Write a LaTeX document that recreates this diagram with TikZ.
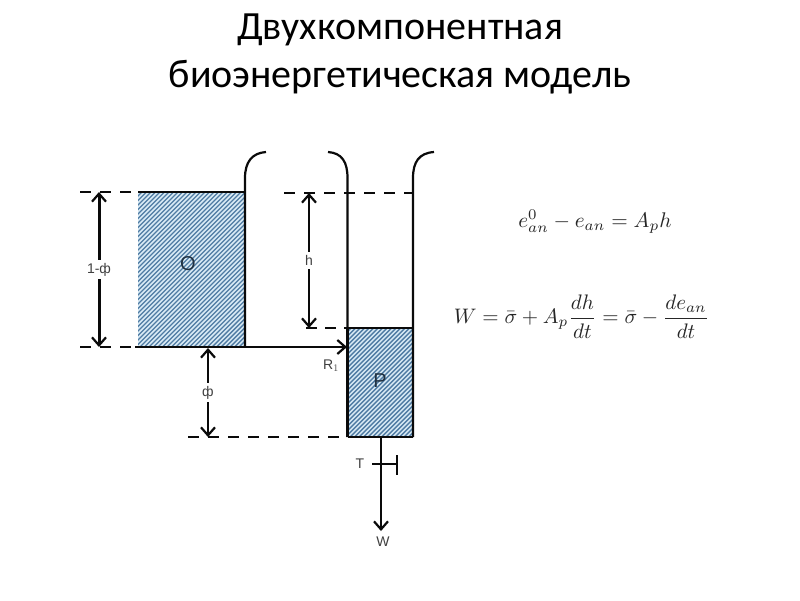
\documentclass[tikz,border=0pt]{standalone}
\usepackage{amsmath}
\usepackage{fontspec}
\setmainfont{Carlito}
\newfontfamily\labelfont{Liberation Sans}
\usetikzlibrary{arrows.meta}
\definecolor{hatchbg}{HTML}{D8EAF5}
\definecolor{hatchln}{HTML}{4F7BA3}
\definecolor{labelc}{HTML}{404040}
\definecolor{inkc}{HTML}{0A0A0A}
\tikzset{
  x=1pt,y=-1pt,
  wall/.style={draw=inkc,line width=2.2pt},
  thick line/.style={draw=inkc,line width=2.6pt},
  dashline/.style={draw=inkc,line width=2.6pt,dash pattern=on 11pt off 9pt},
  dimarrow/.style={draw=inkc,line width=2.2pt,{Straight Barb[length=8pt,width=14pt,line width=2.2pt]}-{Straight Barb[length=8pt,width=14pt,line width=2.2pt]}},
  onearrow/.style={draw=inkc,line width=2.2pt,-{Straight Barb[length=8pt,width=14pt,line width=2.2pt]}},
  lab/.style={font=\labelfont\fontsize{14}{16}\selectfont,text=labelc,inner sep=1.5pt},
  gaplab/.style={lab,fill=white,inner sep=3pt},
  tanklab/.style={font=\labelfont\fontsize{20}{23}\selectfont,text=hatchln!40!black,inner sep=0pt},
  title/.style={font=\fontsize{40}{48}\selectfont,align=center,text=black,inner sep=0pt},
  eqn/.style={text=black!85,inner sep=0pt}
}
\newcommand{\hatchbox}[4]{%
  \begin{scope}
    \clip (#1,#2) rectangle (#3,#4);
    \fill[hatchbg] (#1,#2) rectangle (#3,#4);
    \foreach \k in {0,4.5,...,320}{
      \draw[hatchln,line width=1.4pt] (#1+\k-160,#4) -- ++(160,-160);
    }
  \end{scope}}
\begin{document}
\begin{tikzpicture}
\useasboundingbox (0,0) rectangle (800,600);
\fill[white] (0,0) rectangle (800,600);
\node[title] (ttl) at (400,54) {Двухкомпонентная\\биоэнергетическая модель};

\hatchbox{138}{192}{245}{347}
\hatchbox{348}{328}{413}{437}

% named points
\coordinate (oTL) at (138,192);
\coordinate (oTR) at (245,192);
\coordinate (oBR) at (245,347);
\coordinate (oBL) at (135,347);
\coordinate (pTL) at (347,328);
\coordinate (pTR) at (413,328);
\coordinate (pBL) at (347.5,437);
\coordinate (pBR) at (413,437);
\coordinate (pBM) at (381,437);
\coordinate (dA) at (80,192);
\coordinate (dB) at (80,347);
\coordinate (dh) at (284,193);
\coordinate (dhe) at (413,193);
\coordinate (dl) at (306,328);
\coordinate (dp) at (188,437);
\coordinate (a1) at (99,192);
\coordinate (a2) at (99,347);
\coordinate (h1) at (309,193);
\coordinate (h2) at (309,328);
\coordinate (f1) at (208,348);
\coordinate (f2) at (208,437);
\coordinate (wEnd) at (381,531);
\coordinate (tL) at (372,464);
\coordinate (tR) at (397,464);
\coordinate (tU) at (397,455);
\coordinate (tD) at (397,475);

% walls
\draw[wall] (oBR) -- (245,178) .. controls (245,162) and (252,153) .. (266,152);
\draw[wall] (pBL) -- (347.5,178) .. controls (347.5,162) and (342,153) .. (328,152);
\draw[wall] (pBR) -- (413,178) .. controls (413,162) and (419,153) .. (434,152);

% levels
\draw[thick line] (oTL) -- (oTR);
\draw[thick line] (pTL) -- (pTR);
\draw[thick line] (pBL) -- (pBR);
\draw[dashline] (dA) -- (oTL);
\draw[dashline] (dB) -- (oBL);
\draw[dashline] (dh) -- (dhe);
\draw[dashline,dash pattern=on 11pt off 8pt] (dl) -- (pTL);
\draw[dashline] (dp) -- (pBL);
\draw[line width=3.2pt,draw=inkc] (pTL -| pBL) -- (pBL);

% flow
\draw[onearrow,line width=2.6pt] (oBL) -- (pTL |- oBL);

% dimensions
\draw[dimarrow,line width=3pt] (a1) -- node[gaplab] {1-ф} (a2);
\draw[dimarrow] (h1) -- node[gaplab] {h} (h2);
\draw[dimarrow] (f1) -- node[gaplab] {ф} (f2);

% outlet
\draw[onearrow] (pBM) -- (wEnd);
\draw[wall] (tL) -- (tR);
\draw[wall] (tU) -- (tD);

% labels
\node[tanklab] (lo) at (188,264) {O};
\node[tanklab] (lp) at (380,381) {P};
\node[lab] (lr) at (331,366) {R$_1$};
\node[lab] (lt) at (360,464) {T};
\node[lab] (lw) at (383,542) {W};

% equations
\node[eqn,scale=2.12] (e1) at (595,222) {$e_{an}^0 - e_{an} = A_p h$};
\node[eqn,scale=2.1] (e2) at (581.5,316.5) {$W = \bar\sigma + A_p\dfrac{dh}{dt} = \bar\sigma - \dfrac{de_{an}}{dt}$};
\end{tikzpicture}
\end{document}
